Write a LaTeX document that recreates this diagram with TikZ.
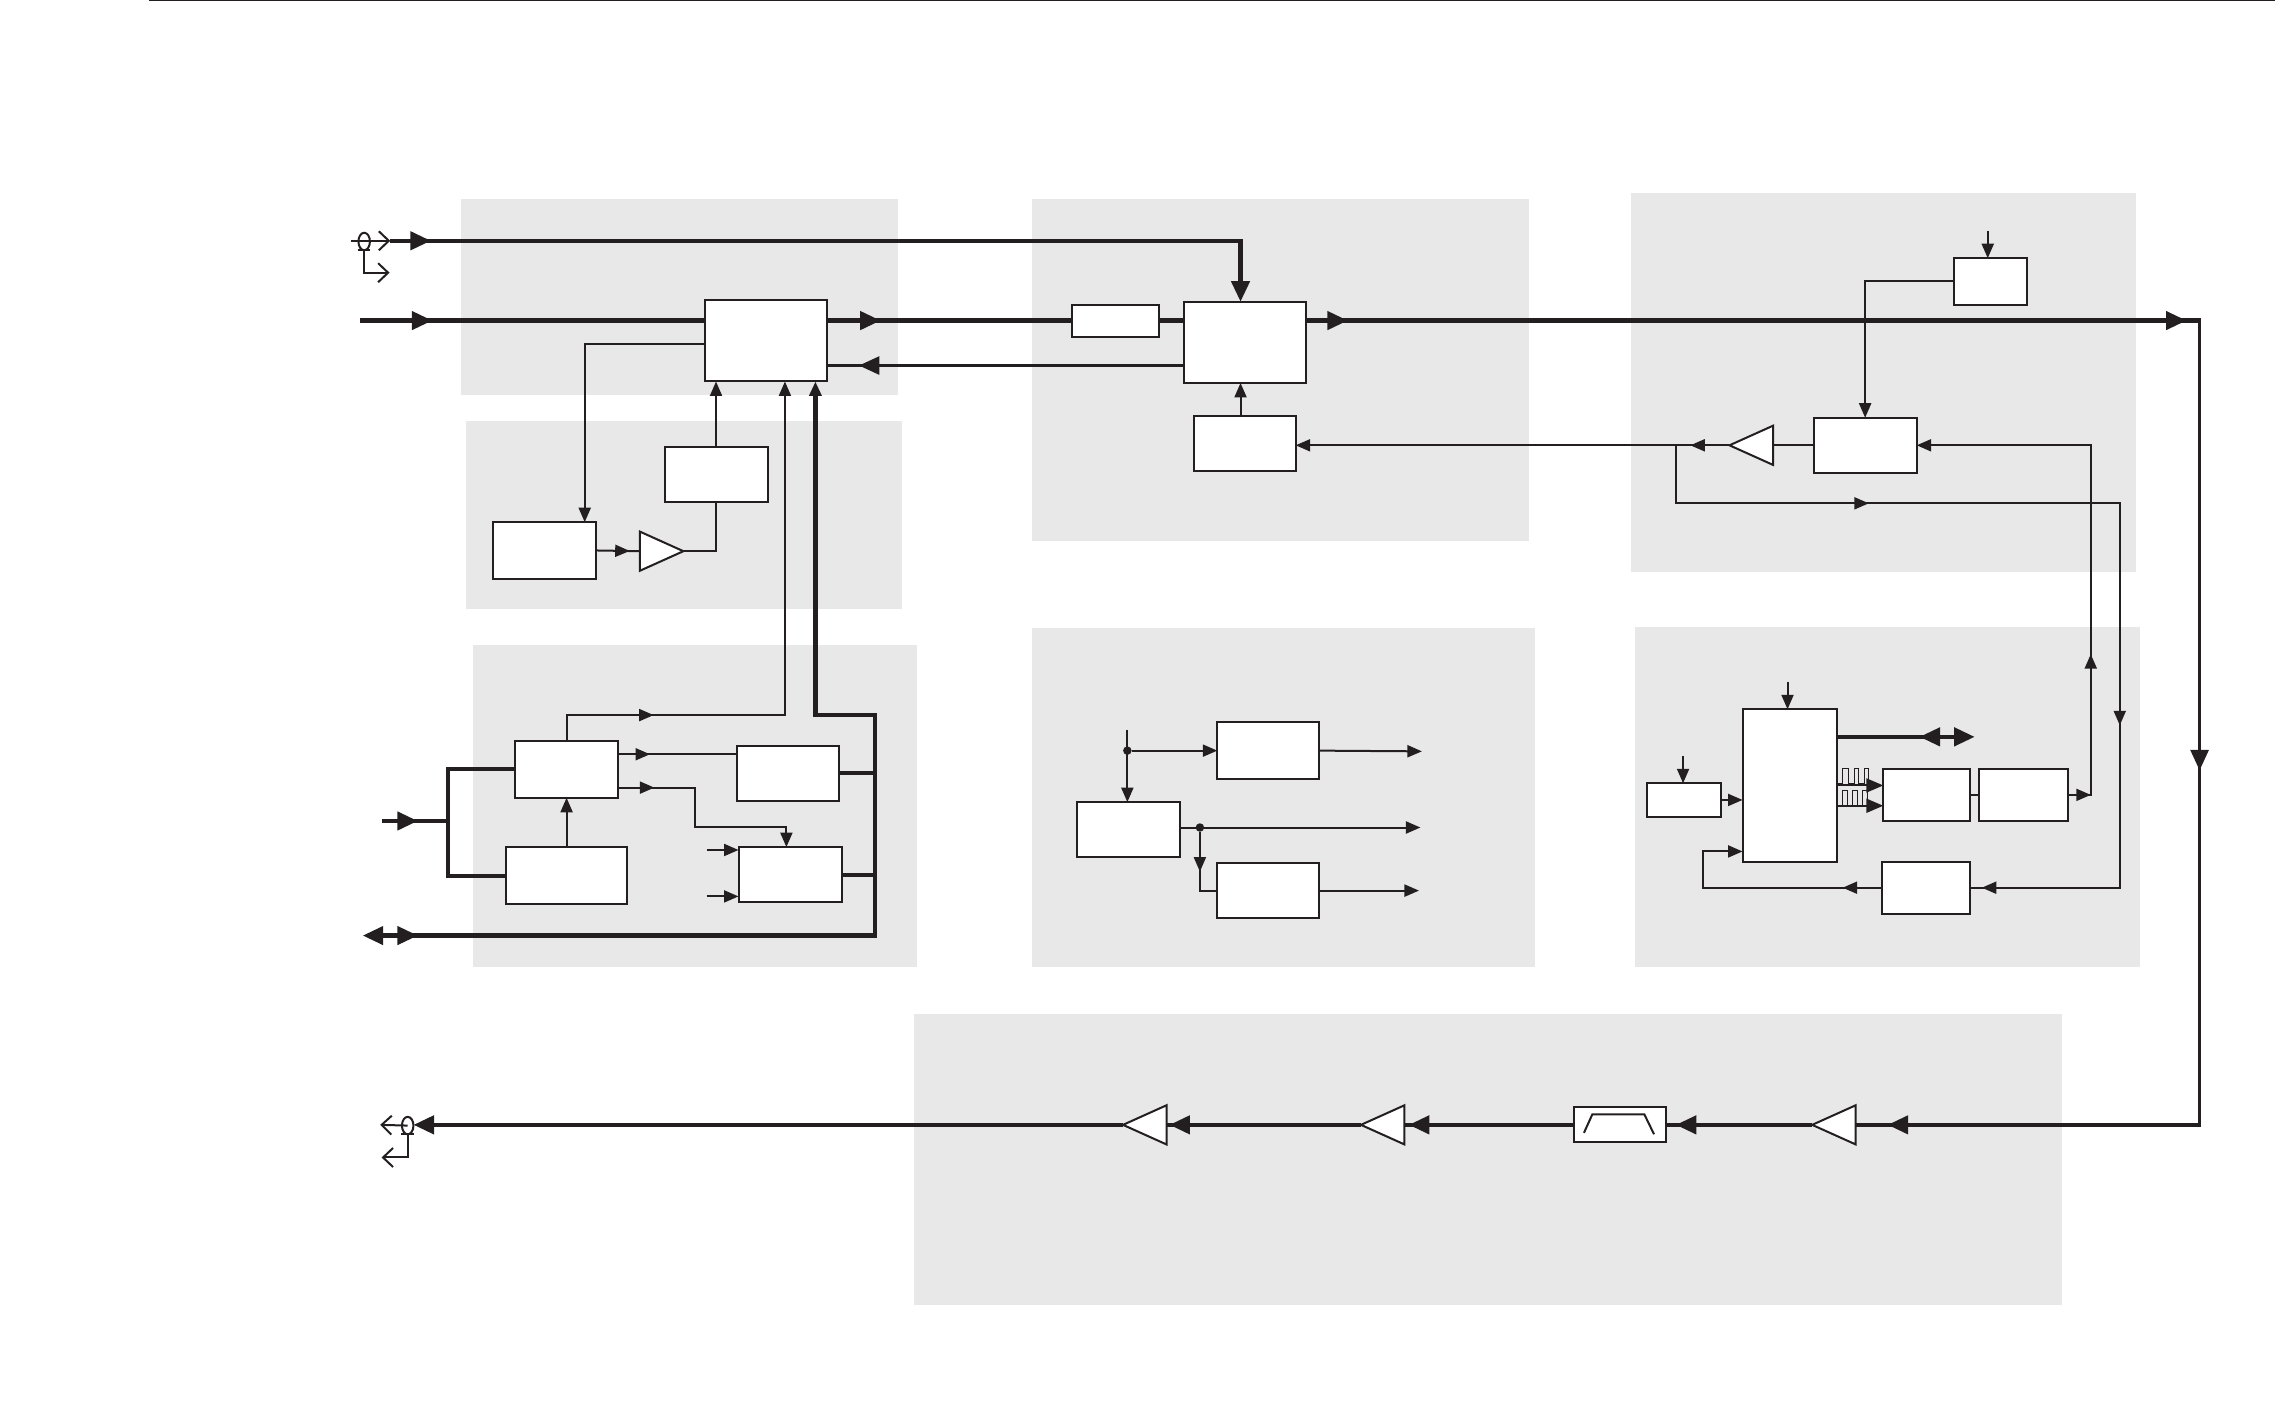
\documentclass[tikz,border=0pt]{standalone}
\usepackage{xcolor}
\usetikzlibrary{positioning,arrows.meta,shapes.geometric,decorations.markings}
\definecolor{ink}{HTML}{231F20}
\definecolor{panelgrey}{HTML}{E8E8E8}
\tikzset{
  fattip/.tip={Triangle[length=2.05mm,width=1.8mm]},
  thintip/.tip={Triangle[length=1.45mm,width=1.2mm]},
  midtip/.tip={Triangle[length=1.7mm,width=1.4mm]},
  barbtip/.tip={Straight Barb[length=1mm,width=1.9mm]},
  panel/.style={fill=panelgrey,draw=none},
  blk/.style 2 args={draw=ink,fill=white,line width=0.2mm,inner sep=0pt,outer sep=0pt,
    anchor=north west,minimum width=#1*0.14509mm,minimum height=#2*0.14505mm},
  ampr/.style={isosceles triangle,isosceles triangle stretches,draw=ink,fill=white,line width=0.2mm,
    inner sep=0pt,outer sep=0pt,minimum width=27*0.14509mm,minimum height=30*0.14505mm,anchor=apex},
  ampl/.style={ampr,shape border rotate=180},
  wire/.style={draw=ink,color=ink,line width=0.2mm},
  bus/.style={draw=ink,color=ink,line width=0.43mm},
  midbus/.style={draw=ink,color=ink,line width=0.29mm},
  pulse/.style={draw=ink,line width=0.1mm},
  junct/.style={circle,fill=ink,inner sep=0pt,minimum size=0.85mm},
  coax/.style={ellipse,draw=ink,line width=0.2mm,inner sep=0pt,minimum width=1.15mm,minimum height=1.75mm},
  fatat/.style={postaction={decorate,decoration={markings,mark=at position #1*0.14509mm with {\arrow{fattip}}}}},
  thinat/.style={postaction={decorate,decoration={markings,mark=at position #1*0.14509mm with {\arrow{thintip}}}}},
  fatback/.style={postaction={decorate,decoration={markings,mark=at position #1*0.14509mm with {\arrowreversed{fattip}}}}},
}
\begin{document}
\begin{tikzpicture}[x=0.14509mm,y=-0.14505mm]
  \useasboundingbox (0,0) rectangle (1568,970);
  \fill[panel] (318,137) rectangle (619,272);
  \fill[panel] (321,290) rectangle (622,420);
  \fill[panel] (326,445) rectangle (632,667);
  \fill[panel] (711,137) rectangle (1054,373);
  \fill[panel] (711,433) rectangle (1058,667);
  \fill[panel] (1124,133) rectangle (1472,394);
  \fill[panel] (1127,432) rectangle (1475,667);
  \fill[panel] (630,699) rectangle (1421,900);
  \coordinate (ruleL) at (103,0.5);
  \coordinate (ruleR) at (1568,0.5);
  \draw[pulse] (ruleL) -- (ruleR);

  \node[blk={84}{56}] (mixer) at (486,207) {};
  \node[blk={71}{38}] (level) at (458,308) {};
  \node[blk={71}{39}] (detect) at (340,360) {};
  \node[ampr] (ampdet) at (471,380) {};
  \node[blk={71}{39}] (ctrl) at (355,511) {};
  \node[blk={83}{39}] (refgen) at (349,584) {};
  \node[blk={70}{38}] (synth) at (508,514) {};
  \node[blk={71}{38}] (phase) at (509,584) {};

  \node[blk={60}{22}] (atten) at (739,210) {};
  \node[blk={84}{56}] (coupler) at (816,208) {};
  \node[blk={70}{38}] (driver) at (823,287) {};

  \node[blk={70}{39}] (clockA) at (839,498) {};
  \node[blk={71}{38}] (clockM) at (742,553) {};
  \node[blk={70}{38}] (clockB) at (839,595) {};

  \node[blk={50}{32}] (latch) at (1347,178) {};
  \node[blk={71}{38}] (loopf) at (1250,288) {};
  \node[ampl] (amploop) at (1192,307) {};

  \node[blk={51}{23}] (osc) at (1135,540) {};
  \node[blk={65}{105}] (dsp) at (1201,489) {};
  \node[blk={60}{36}] (dacA) at (1298,530) {};
  \node[blk={61}{36}] (dacB) at (1364,530) {};
  \node[blk={61}{36}] (adc) at (1297,594) {};

  \node[ampl] (ampA) at (774,775.5) {};
  \node[ampl] (ampB) at (938,775.5) {};
  \node[ampl] (ampC) at (1249,775.5) {};
  \node[blk={63}{24}] (filter) at (1085,763) {};
  \draw[wire] (1091.7,781) -- (1097.5,768.2) -- (1133.3,768.2) -- (1140,782);

  \node[coax] (coaxin) at (251,166.5) {};
  \node[coax] (coaxout) at (281,776) {};
  \coordinate (inA) at (269,166);
  \coordinate (inB) at (248,221);
  \coordinate (inC) at (263,566);
  \coordinate (ioC) at (250,645);
  \coordinate (outA) at (285,775.5);
  \coordinate (tapA) at (1155,307);
  \coordinate (cornerT) at (1517,221);
  \coordinate (cornerB) at (1517,775.5);
  \draw[wire,-{barbtip}] (242,166) -- (inA);
  \draw[wire] (246.5,172.5) -- (255,172.5);
  \draw[wire,-{barbtip}] (coaxin.south) |- (268.5,188);
  \draw[wire,-{barbtip}] (coaxout.center) -- (262,775.5);
  \draw[wire] (276.5,782) -- (285.5,782);
  \draw[wire,-{barbtip}] (coaxout.south) |- (263,798);

  \draw[bus,fatat=28,-{fattip}] (inA) -| (855,208);
  \draw[bus,fatat=50] (inB) -- (mixer.west |- 0,221);
  \draw[bus,fatat=37] (mixer.east |- 0,221) -- (atten.west |- 0,221);
  \draw[bus] (atten.east |- 0,221) -- (coupler.west |- 0,221);
  \draw[bus,fatat=29,fatat=607] (coupler.east |- 0,221) -- (cornerT);
  \draw[midbus,fatat=310] (1516,221) -- (1516,775.5);
  \draw[bus,fatat=216] (cornerB) -- (ampC.lower side);
  \draw[bus,fatat=94] (ampC.apex) -- (filter.east |- ampC.apex);
  \draw[bus,fatat=114] (filter.west |- ampC.apex) -- (ampB.lower side);
  \draw[bus,fatat=132] (ampB.apex) -- (ampA.lower side);
  \draw[bus,-{fattip}] (ampA.apex) -- (outA);
  \draw[bus,fatat=25] (inC) -- (309,566);
  \draw[bus] (ctrl.west |- 0,530) -- (309,530) -- (309,604) -- (refgen.west |- 0,604);
  \draw[bus,fatat=38,{fattip}-{thintip}] (ioC) -- (603,645) -- (603,493) -- (562,493) -- (mixer.south -| 562,0);
  \draw[bus] (synth.east) -- (synth.east -| 603,0);
  \draw[bus] (phase.east) -- (phase.east -| 603,0);
  \draw[bus,fatback=57,-{fattip}] (dsp.east |- 0,508) -- (1361,508);
  \draw[midbus,fatat=224] (coupler.west |- 0,252) -- (mixer.east |- 0,252);

  \draw[wire,-{thintip}] (mixer.west |- 0,237) -| (detect.north -| 403,0);
  \draw[wire,thinat=23] (detect.east) -- (ampdet.lower side);
  \draw[wire] (ampdet.apex) -| (level.south);
  \draw[wire,-{thintip}] (level.north) -- (level.north |- mixer.south);
  \draw[wire,thinat=78,-{thintip}] (ctrl.north) |- (541,493) -- (mixer.south -| 541,0);
  \draw[wire,thinat=22] (ctrl.east |- 0,520) -- (synth.west |- 0,520);
  \draw[wire,thinat=25,-{thintip}] (ctrl.east |- 0,543) -- (479,543) -- (479,570) -- (542,570) -- (phase.north -| 542,0);
  \draw[wire,-{thintip}] (refgen.north) -- (ctrl.south);
  \draw[wire,-{thintip}] (487,586) -- (phase.west |- 0,586);
  \draw[wire,-{thintip}] (487,618) -- (phase.west |- 0,618);

  \draw[wire,-{thintip}] (driver.north -| 855,0) -- (coupler.south -| 855,0);
  \draw[wire,thinat=27,-{thintip}] (amploop.apex) -- (driver.east |- amploop.apex);
  \draw[wire,thinat=173,thinat=499,thinat=706] (tapA) |- (1461,347) |- (adc.east);
  \draw[wire,thinat=27,-{thintip}] (adc.west) -| (1174,587) -- (dsp.west |- 0,587);
  \draw[wire,thinat=16,thinat=113,-{thintip}] (dacB.east) -| (1441,307) -- (loopf.east);
  \draw[wire,-{thintip}] (latch.west) -| (loopf.north);
  \draw[wire,-{thintip}] (1370,159) -- (latch.north -| 1370,0);
  \draw[wire] (loopf.west) -- (amploop.lower side);

  \node[junct] (tapB) at (777,517.5) {};
  \node[junct] (tapC) at (827,570.5) {};
  \draw[wire,-{thintip}] (777,503) -- (clockM.north -| 777,0);
  \draw[wire,-{thintip}] (tapB) -- (clockA.west);
  \draw[wire,-{thintip}] (clockA.east) -- (980,518);
  \draw[wire,-{thintip}] (clockM.east |- tapC) -- (979,570.5);
  \draw[wire,thinat=27] (tapC) |- (clockB.west);
  \draw[wire,-{thintip}] (clockB.east) -- (978,614);

  \draw[wire,-{thintip}] (1232,470) -- (dsp.north -| 1232,0);
  \draw[wire,-{thintip}] (1160,521) -- (osc.north -| 1160,0);
  \draw[wire,-{thintip}] (osc.east) -- (osc.east -| dsp.west);
  \draw[wire,-{midtip}] (dsp.east |- 0,541.5) -- (dacA.west |- 0,541.5);
  \draw[wire,-{midtip}] (dsp.east |- 0,555.5) -- (dacA.west |- 0,555.5);
  \draw[pulse] (1267,540) -- (1270,540) -- (1270,530) -- (1274,530) -- (1274,540) -- (1278,540) -- (1278,530) -- (1281,530) -- (1281,540) -- (1285,540) -- (1285,530) -- (1288,530) -- (1288,540) -- (1291,540);
  \draw[pulse] (1267,555) -- (1270,555) -- (1270,545) -- (1273,545) -- (1273,555) -- (1277,555) -- (1277,545) -- (1280,545) -- (1280,555) -- (1284,555) -- (1284,545) -- (1287,545) -- (1287,555) -- (1290,555);
  \draw[wire] (dacA.east) -- (dacB.west);
\end{tikzpicture}
\end{document}
